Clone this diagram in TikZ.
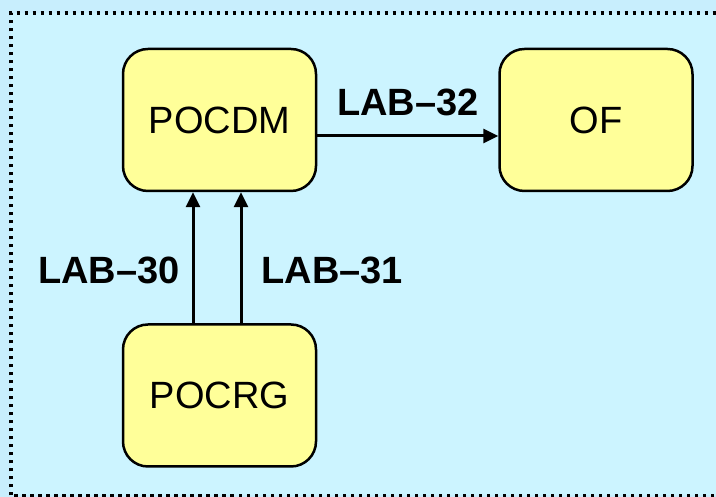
\documentclass[tikz,border=0pt]{standalone}
\usepackage{fontspec}
\setmainfont{Liberation Sans}
\usetikzlibrary{positioning,arrows.meta}
\definecolor{outerbg}{HTML}{C8EEFD}
\definecolor{innerbg}{HTML}{CCF4FF}
\definecolor{boxfill}{HTML}{FFFF99}
\tikzset{block/.style={draw,line width=2.5pt,fill=boxfill,rounded corners=25pt,minimum width=193pt,minimum height=142pt,align=center,font=\fontsize{38}{40}\selectfont},
         lab/.style={font=\bfseries\fontsize{38}{40}\selectfont,inner sep=0pt}
}
\tikzstyle{arrow} = [line width=3pt,-{Triangle[length=15pt,width=14pt]}]

\begin{document}
\begin{tikzpicture}[x=1pt,y=1pt]
\fill[outerbg] (0,0) rectangle (716,497);
\useasboundingbox (0,0) rectangle (716,497);
\fill[innerbg] (11,1.5) rectangle (720,484);
\draw[line width=3.5pt,dash pattern=on 3.5pt off 4.5pt] (11,1.5) rectangle (720,484);

\node[block] (pocdm) at (219.5,377) {POCDM};
\node[block,right=181pt of pocdm] (of) {OF};
\node[block,below=131pt of pocdm] (pocrg) {POCRG};
\draw[arrow] ([yshift=-16pt]pocdm.east)--([yshift=-16pt]of.west) node[lab,midway,above=19pt] {LAB–32};
\draw[arrow] ([xshift=-26.5pt]pocrg.north)--([xshift=-26.5pt]pocdm.south) node[lab,pos=0.4,left=12pt] {LAB–30};
\draw[arrow] ([xshift=21.5pt]pocrg.north)--([xshift=21.5pt]pocdm.south) node[lab,pos=0.4,right=19pt] {LAB–31};

\end{tikzpicture}
\end{document}
